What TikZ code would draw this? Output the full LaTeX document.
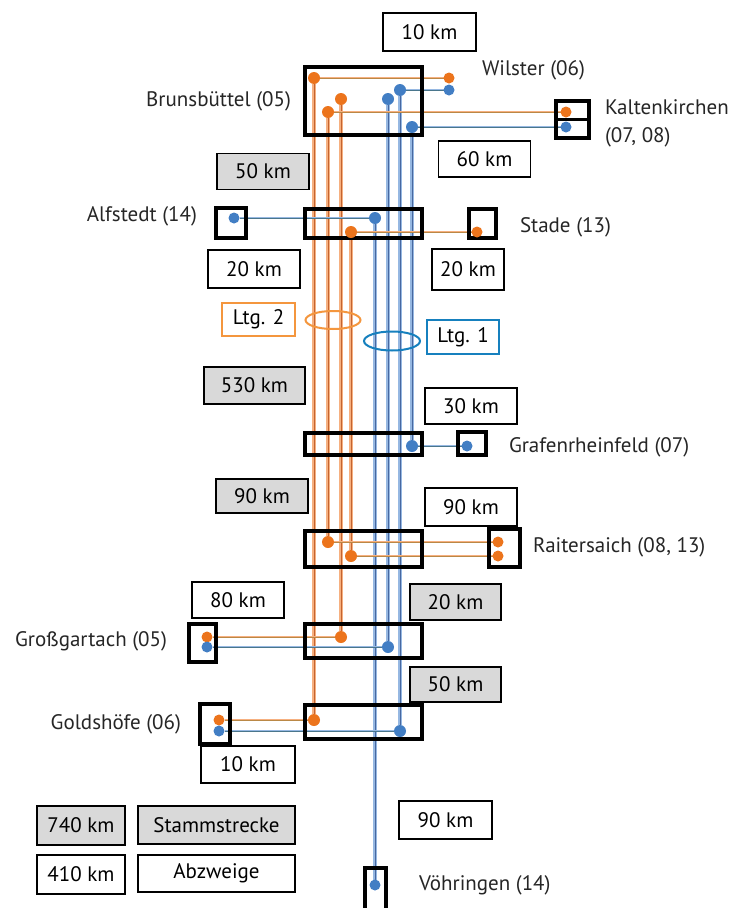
\documentclass[tikz,border=0pt]{standalone}
\usepackage{fontspec}
\setmainfont{PT Sans}
\usetikzlibrary{shapes.geometric}

\definecolor{dotorange}{RGB}{236,116,28}
\definecolor{dotblue}{RGB}{66,126,196}
\definecolor{lineorange}{RGB}{196,100,48}
\definecolor{haloorange}{RGB}{246,176,128}
\definecolor{lineblue}{RGB}{72,104,160}
\definecolor{haloblue}{RGB}{150,184,226}
\definecolor{linkorange}{RGB}{186,136,70}
\definecolor{linkblue}{RGB}{74,118,140}
\definecolor{boxgray}{RGB}{217,217,217}
\definecolor{ltgorange}{RGB}{244,150,62}
\definecolor{ltgblue}{RGB}{22,128,190}

\pgfdeclarelayer{bg}
\pgfsetlayers{bg,main}

\begin{document}
\begin{tikzpicture}[x=1pt, y=-1pt,
    every node/.style={font=\fontsize{21}{24}\selectfont, inner sep=0pt, outer sep=0pt},
    hub/.style={draw=black, line width=4pt, rectangle},
    km/.style={draw=black, line width=1.8pt, fill=white, rectangle, minimum width=92pt, minimum height=36pt},
    kmgray/.style={km, fill=boxgray},
    odot/.style={circle, fill=dotorange, minimum size=12pt},
    bdot/.style={circle, fill=dotblue, minimum size=12pt},
    sodot/.style={odot, minimum size=11pt},
    sbdot/.style={bdot, minimum size=11pt},
    oline/.style={draw=lineorange, line width=0.9pt, preaction={draw=haloorange, line width=3.4pt}},
    bline/.style={draw=lineblue, line width=0.9pt, preaction={draw=haloblue, line width=3.4pt}},
    olink/.style={draw=linkorange, line width=1pt, preaction={draw=haloorange, line width=2.6pt}},
    blink/.style={draw=linkblue, line width=1pt, preaction={draw=haloblue, line width=2.6pt}},
    city/.style={text=black!85}]

    \useasboundingbox (0,0) rectangle (741,908);

    % Draw hubs
    \node[hub, minimum width=117pt, minimum height=68pt] (bruHub) at (363.5,101) {};
    \node[hub, minimum width=117pt, minimum height=29pt] (staHub) at (363.5,223.5) {};
    \node[hub, minimum width=117pt, minimum height=22pt] (graHub) at (363.5,444) {};
    \node[hub, minimum width=117pt, minimum height=36pt] (raiHub) at (363.5,549) {};
    \node[hub, minimum width=117pt, minimum height=34pt] (groHub) at (363.5,641) {};
    \node[hub, minimum width=117pt, minimum height=34pt] (golHub) at (363.5,722) {};

    % Draw stations
    \node[hub, minimum width=33pt, minimum height=37pt] (kalBox) at (572.5,119.5) {};
    \draw[line width=3pt] (kalBox.west) -- (kalBox.east);
    \node[hub, minimum width=30pt, minimum height=30pt] (alfBox) at (231,223) {};
    \node[hub, minimum width=27pt, minimum height=29pt] (staBox) at (482.5,223.5) {};
    \node[hub, minimum width=28pt, minimum height=23pt] (graBox) at (472,443.5) {};
    \node[hub, minimum width=31pt, minimum height=38pt] (raiBox) at (504.5,548) {};
    \node[hub, minimum width=27pt, minimum height=38pt] (groBox) at (202.5,643) {};
    \node[hub, minimum width=30pt, minimum height=40pt] (golBox) at (215,724) {};
    \node[hub, minimum width=21pt, minimum height=44pt] (voeBox) at (375.5,890) {};

    % Draw dots
    \node[odot] (o1top) at (314,78) {};
    \node[odot] (o2top) at (328,112) {};
    \node[odot] (o3top) at (341,99) {};
    \node[odot] (o4top) at (351,232) {};
    \node[bdot] (b1top) at (375,218) {};
    \node[bdot] (b2top) at (388,99) {};
    \node[bdot] (b3top) at (400,90) {};
    \node[bdot] (b4top) at (412,127) {};
    \node[odot] (o1end) at (314,720) {};
    \node[odot] (o2end) at (328,542) {};
    \node[odot] (o3end) at (341,637) {};
    \node[odot] (o4end) at (351,556) {};
    \node[sbdot] (b1end) at (375,885) {};
    \node[bdot] (b2end) at (388,647) {};
    \node[bdot] (b3end) at (400,731) {};
    \node[bdot] (b4end) at (412,446) {};
    \node[sodot] (wilO) at (449,78) {};
    \node[sbdot] (wilB) at (449,90) {};
    \node[sodot] (kalO) at (566,112) {};
    \node[sbdot] (kalB) at (566,127) {};
    \node[sbdot] (alfB) at (234,218) {};
    \node[sodot] (staO) at (477,232) {};
    \node[sbdot] (graB) at (467,446) {};
    \node[sodot] (raiO) at (498,542) {};
    \node[sodot] (raiP) at (498,556) {};
    \node[sodot] (groO) at (207,637) {};
    \node[sbdot] (groB) at (207,647) {};
    \node[sodot] (golO) at (219,720) {};
    \node[sbdot] (golB) at (219,731) {};

    % Draw connections
    \begin{pgfonlayer}{bg}
        \fill[white] (0,0) rectangle (741,908);
        \draw[oline] (o1top) -- (o1end);
        \draw[oline] (o2top) -- (o2end);
        \draw[oline] (o3top) -- (o3end);
        \draw[oline] (o4top) -- (o4end);
        \draw[bline] (b1top) -- (b1end);
        \draw[bline] (b2top) -- (b2end);
        \draw[bline] (b3top) -- (b3end);
        \draw[bline] (b4top) -- (b4end);
        \draw[olink] (o1top) -- (wilO);
        \draw[blink] (b3top) -- (wilB);
        \draw[olink] (o2top) -- (kalO);
        \draw[blink] (b4top) -- (kalB);
        \draw[blink] (b1top) -- (alfB);
        \draw[olink] (o4top) -- (staO);
        \draw[blink] (b4end) -- (graB);
        \draw[olink] (o2end) -- (raiO);
        \draw[olink] (o4end) -- (raiP);
        \draw[olink] (o3end) -- (groO);
        \draw[blink] (b2end) -- (groB);
        \draw[olink] (o1end) -- (golO);
        \draw[blink] (b3end) -- (golB);
    \end{pgfonlayer}

    % Distances
    \node[km, minimum width=93pt, minimum height=38pt] (kmWil) at (429.5,32) {10 km};
    \node[km] (kmKal) at (484.5,159) {60 km};
    \node[kmgray] (kmStaA) at (263,171.5) {50 km};
    \node[km, minimum height=38pt] (kmAlf) at (254,269) {20 km};
    \node[km, minimum width=72pt, minimum height=41pt] (kmSta) at (468,269.5) {20 km};
    \node[kmgray, minimum width=101pt, minimum height=37pt] (kmGraA) at (254.5,385.5) {530 km};
    \node[km] (kmGra) at (471,406) {30 km};
    \node[kmgray, minimum height=34pt] (kmRaiA) at (262,496) {90 km};
    \node[km, minimum height=38pt] (kmRai) at (471,507) {90 km};
    \node[km] (kmGro) at (238,600) {80 km};
    \node[kmgray, minimum width=91pt] (kmGroA) at (455.5,602) {20 km};
    \node[kmgray, minimum width=91pt, minimum height=35pt] (kmGolA) at (455.5,684.5) {50 km};
    \node[km, minimum width=94pt, minimum height=37pt] (kmGol) at (248,764.5) {10 km};
    \node[km, minimum width=93pt, minimum height=38pt] (kmVoe) at (445.5,820) {90 km};

    % Lines
    \node[ellipse, draw=ltgorange, line width=2pt, minimum width=55pt, minimum height=18pt] (ringTwo) at (333,320) {};
    \node[ellipse, draw=ltgblue, line width=2pt, minimum width=56pt, minimum height=19pt] (ringOne) at (392,341) {};
    \node[draw=ltgorange, line width=2pt, fill=white, minimum width=73pt, minimum height=33pt] (ltgTwo) at (258.5,319.5) {Ltg. 2};
    \node[draw=ltgblue, line width=2pt, fill=white, minimum width=72pt, minimum height=34pt] (ltgOne) at (463,337) {Ltg. 1};

    % Legend
    \node[kmgray, minimum width=88pt, minimum height=39pt] (legA) at (81,825.5) {740 km};
    \node[kmgray, minimum width=157pt, minimum height=38pt] (legB) at (216.5,825) {Stammstrecke};
    \node[km, minimum width=88pt, minimum height=39pt] (legC) at (81,874.5) {410 km};
    \node[km, minimum width=157pt, minimum height=37pt] (legD) at (216.5,873.5) {Abzweige};

    % Labels
    \node[city, anchor=west] (wil) at (482,70) {Wilster (06)};
    \node[city, anchor=east] (bru) at (291,101) {Brunsbüttel (05)};
    \node[city, anchor=west] (kal) at (605,107) {Kaltenkirchen};
    \node[city, anchor=west] (kalNr) at (605,137) {(07, 08)};
    \node[city, anchor=east] (alf) at (197,216) {Alfstedt (14)};
    \node[city, anchor=west] (sta) at (520,227) {Stade (13)};
    \node[city, anchor=west] (gra) at (509,447) {Grafenrheinfeld (07)};
    \node[city, anchor=west] (rai) at (533,547) {Raitersaich (08, 13)};
    \node[city, anchor=east] (gro) at (167,641) {Großgartach (05)};
    \node[city, anchor=east] (gol) at (181,724) {Goldshöfe (06)};
    \node[city, anchor=west] (voe) at (419,885) {Vöhringen (14)};
\end{tikzpicture}
\end{document}
